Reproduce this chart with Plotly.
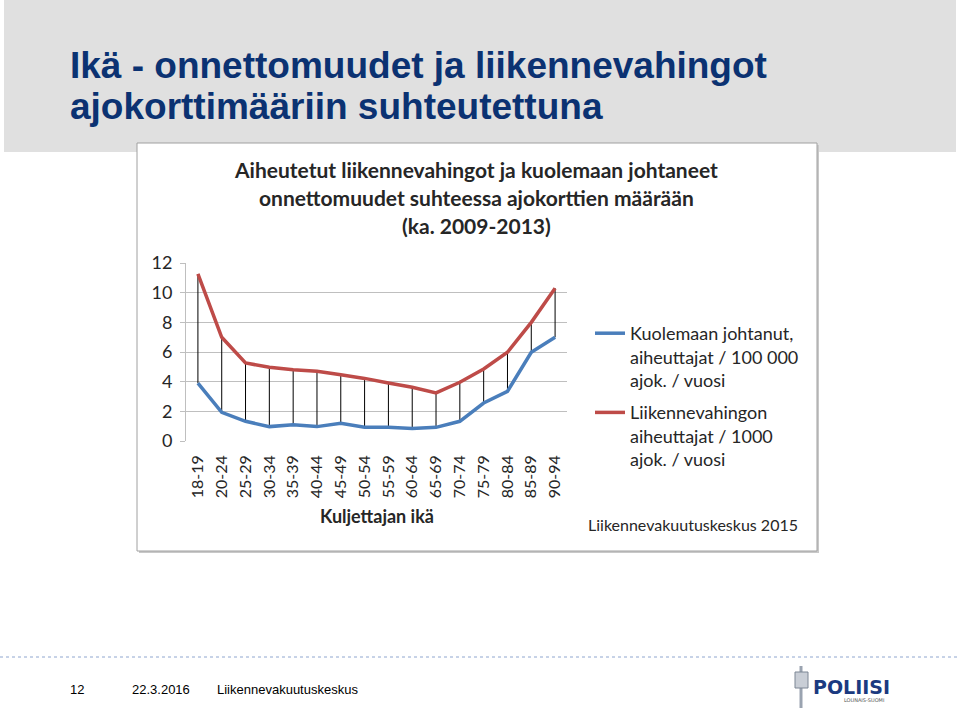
import plotly.graph_objects as go

W, H = 960, 711

age_groups = ["18-19", "20-24", "25-29", "30-34", "35-39", "40-44", "45-49", "50-54",
              "55-59", "60-64", "65-69", "70-74", "75-79", "80-84", "85-89", "90-94"]
fatal_per_100k = [3.9, 1.93, 1.33, 0.97, 1.1, 0.97, 1.19, 0.92,
                  0.92, 0.85, 0.92, 1.33, 2.56, 3.35, 5.98, 6.99]
damage_per_1000 = [11.26, 6.99, 5.26, 4.97, 4.81, 4.7, 4.47, 4.22,
                   3.91, 3.62, 3.24, 3.96, 4.86, 5.98, 8.0, 10.3]
y_ticks = [0, 2, 4, 6, 8, 10, 12]

series_names = ["Kuolemaan johtanut,<br>aiheuttajat / 100 000<br>ajok. / vuosi",
                "Liikennevahingon<br>aiheuttajat / 1000<br>ajok. / vuosi"]

def px(x):
    return x / W

def py(y):
    return 1 - y / H

FONT = "Lato, Carlito, 'Open Sans', sans-serif"
TITLE_FONT = "'Liberation Sans', Arial, sans-serif"
FOOT_FONT = "'Liberation Sans', Arial, sans-serif"

fig = go.Figure()

# high-low drop lines
hx, hy = [], []
for cat, lo, hi in zip(age_groups, fatal_per_100k, damage_per_1000):
    hx += [cat, cat, None]
    hy += [lo, hi, None]
fig.add_trace(go.Scatter(x=hx, y=hy, mode="lines", line=dict(color="#000000", width=1),
                         showlegend=False, hoverinfo="skip"))

fig.add_trace(go.Scatter(x=age_groups, y=fatal_per_100k, mode="lines", name=series_names[0],
                         legendgroup="fatal", line=dict(color="#4a7ebb", width=3.5)))
fig.add_trace(go.Scatter(x=age_groups, y=damage_per_1000, mode="lines", name=series_names[1],
                         legendgroup="damage", line=dict(color="#be4b48", width=3.5)))

shapes = [
    # header band
    dict(type="rect", xref="paper", yref="paper", x0=px(4), x1=px(956), y0=py(152), y1=py(0),
         fillcolor="#e0e0e0", line=dict(width=0), layer="below"),
    # chart box shadow
    dict(type="rect", xref="paper", yref="paper", x0=px(139), x1=px(819), y0=py(553), y1=py(145),
         fillcolor="#c8c8c8", line=dict(width=0), layer="below"),
    # chart box
    dict(type="rect", xref="paper", yref="paper", x0=px(137), x1=px(817), y0=py(551), y1=py(143),
         fillcolor="#ffffff", line=dict(color="#a0a0a0", width=1), layer="below"),
    # footer dotted line
    dict(type="line", xref="paper", yref="paper", x0=0, x1=1, y0=py(657), y1=py(657),
         line=dict(color="#8fa6cf", width=1, dash="dot"), layer="below"),
    # logo emblem
    dict(type="line", xref="paper", yref="paper", x0=px(801), x1=px(801), y0=py(708), y1=py(666),
         line=dict(color="#9aa3b0", width=3), layer="above"),
    dict(type="rect", xref="paper", yref="paper", x0=px(795), x1=px(808), y0=py(688), y1=py(672),
         fillcolor="#c9ced6", line=dict(color="#7d8694", width=1), layer="above"),
]

def ann(text, x, y, size, color, family=FONT, xanchor="left"):
    return dict(text=text, x=px(x), y=py(y), xref="paper", yref="paper",
                xanchor=xanchor, yanchor="middle", showarrow=False,
                font=dict(family=family, size=size, color=color))

annotations = [
    ann("<b>Ikä - onnettomuudet ja liikennevahingot</b>", 68, 66, 37, "#0b3272", TITLE_FONT),
    ann("<b>ajokorttimääriin suhteutettuna</b>", 68, 106, 37, "#0b3272", TITLE_FONT),
    ann("<b>Aiheutetut liikennevahingot ja kuolemaan johtaneet</b>", 476, 169, 21, "#262626",
        xanchor="center"),
    ann("<b>onnettomuudet suhteessa ajokorttien määrään</b>", 476, 197, 21, "#262626",
        xanchor="center"),
    ann("<b>(ka. 2009-2013)</b>", 476, 225, 21, "#262626", xanchor="center"),
    ann("<b>Kuljettajan ikä</b>", 377, 516, 18, "#262626", xanchor="center"),
    ann("Liikennevakuutuskeskus 2015", 586, 524, 16, "#262626"),
    # footer
    ann("12", 68, 689, 13, "#000000", FOOT_FONT),
    ann("22.3.2016", 130, 689, 13, "#000000", FOOT_FONT),
    ann("Liikennevakuutuskeskus", 215, 689, 13, "#000000", FOOT_FONT),
    ann("<b>POLIISI</b>", 811, 687, 19, "#1b3a80", "'DejaVu Sans', sans-serif"),
    ann("LOUNAIS-SUOMI", 886, 700, 5, "#555555", "'DejaVu Sans', sans-serif", xanchor="right"),
]

fig.update_layout(
    width=W, height=H, autosize=False,
    margin=dict(l=0, r=0, t=0, b=0, pad=0, autoexpand=False),
    paper_bgcolor="#ffffff", plot_bgcolor="rgba(0,0,0,0)",
    shapes=shapes, annotations=annotations,
    showlegend=True,
    legend=dict(x=px(590), y=py(315), xanchor="left", yanchor="top", valign="top",
                font=dict(family=FONT, size=18, color="#262626"), traceorder="grouped",
                bgcolor="rgba(0,0,0,0)", tracegroupgap=6, itemwidth=30),
    xaxis=dict(domain=[px(186), px(567)], type="category", categoryorder="array",
               categoryarray=age_groups, range=[-0.5, 15.5], tickangle=-90,
               showgrid=False, showline=False, zeroline=False, ticks="", automargin=False,
               tickfont=dict(family=FONT, size=16, color="#262626"), ticklabelstandoff=10),
    yaxis=dict(domain=[py(441), py(263)], range=[0, 12], tickvals=y_ticks,
               showgrid=True, gridcolor="#bfbfbf", gridwidth=1, zeroline=False,
               showline=True, linecolor="#bfbfbf", linewidth=1, automargin=False,
               ticks="outside", ticklen=5, tickcolor="#bfbfbf",
               tickfont=dict(family=FONT, size=18, color="#262626"), ticklabelstandoff=4),
)

fig.write_html("out.html", config={"displayModeBar": False},
               post_script="document.body.style.margin='0';document.body.style.overflow='hidden';")
